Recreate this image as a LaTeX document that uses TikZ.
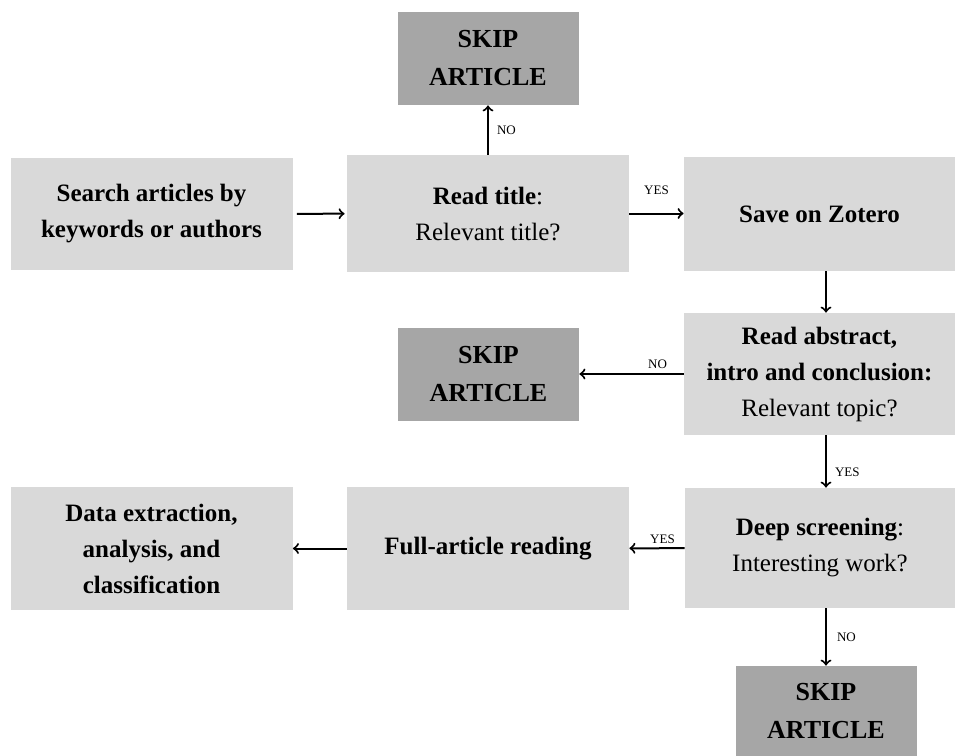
\documentclass[tikz,border=0pt]{standalone}
\usepackage{fontspec}
\setmainfont{Liberation Serif}
\usetikzlibrary{positioning}
\usetikzlibrary{calc}

\begin{document}
\begin{tikzpicture}[x=0.5pt,y=-0.5pt,
			box/.style={fill=gray!30,align=center,inner sep=2pt,font=\fontsize{12.5}{18}\selectfont},
			stage/.style={box,minimum width=141pt,minimum height=60pt},
			skip/.style={box,fill=gray!70,minimum width=90.5pt,minimum height=46.5pt,font=\fontsize{13}{19}\selectfont\bfseries},
			lbl/.style={font=\fontsize{6.5}{8}\selectfont,inner sep=2pt},
			arr/.style={->,line width=1pt}]
			\useasboundingbox (0,0) rectangle (955,756);
			\node[skip] (skip1) at (488,58.5) {SKIP\\ARTICLE};
			\node[stage, minimum height=56pt] (search) at (151.5,214) {\textbf{Search articles by}\\\textbf{keywords or authors}};
			\node[stage, minimum height=58.5pt] (title) at (488,213.5) {\textbf{Read title}:\\Relevant title?};
			\node[stage, minimum width=135.5pt, minimum height=57pt] (zotero) at (819.5,214) {\textbf{Save on Zotero}};
			\node[stage, minimum width=135.5pt, minimum height=61pt] (abstract) at (819.5,374) {\textbf{Read abstract,}\\\textbf{intro and conclusion:}\\Relevant topic?};
			\node[skip] (skip2) at (488.5,374) {SKIP\\ARTICLE};
			\node[stage, minimum width=135pt] (deep) at (820,548) {\textbf{Deep screening}:\\Interesting work?};
			\node[stage, minimum height=61.5pt] (full) at (488,548.5) {\textbf{Full-article reading}};
			\node[stage, minimum height=61.5pt] (data) at (151.5,548.5) {\textbf{Data extraction,}\\\textbf{analysis, and}\\\textbf{classification}};
			\node[skip, minimum height=45pt] (skip3) at (826,711) {SKIP\\ARTICLE};
			\draw[arr] (title) -- node[lbl, right=2pt] {NO} (skip1);
			\draw[arr,shorten <=2pt,shorten >=1pt] (search) -- (title);
			\draw[arr] (title.east) -- node[lbl, above=7pt] {YES} (zotero.west |- title.east);
			\draw[arr] (zotero.south -| skip3) -- (abstract.north -| skip3);
			\draw[arr] (abstract) -- node[lbl, above, pos=0.25] {NO} (skip2);
			\draw[arr] (abstract.south -| skip3) -- node[lbl, right=2pt, pos=0.7] {YES} (deep.north -| skip3);
			\draw[arr] (deep) -- node[lbl, above, pos=0.4] {YES} (full);
			\draw[arr] (full) -- (data);
			\draw[arr] (deep.south -| skip3) -- node[lbl, right=3pt] {NO} (skip3);
		\end{tikzpicture}
\end{document}
